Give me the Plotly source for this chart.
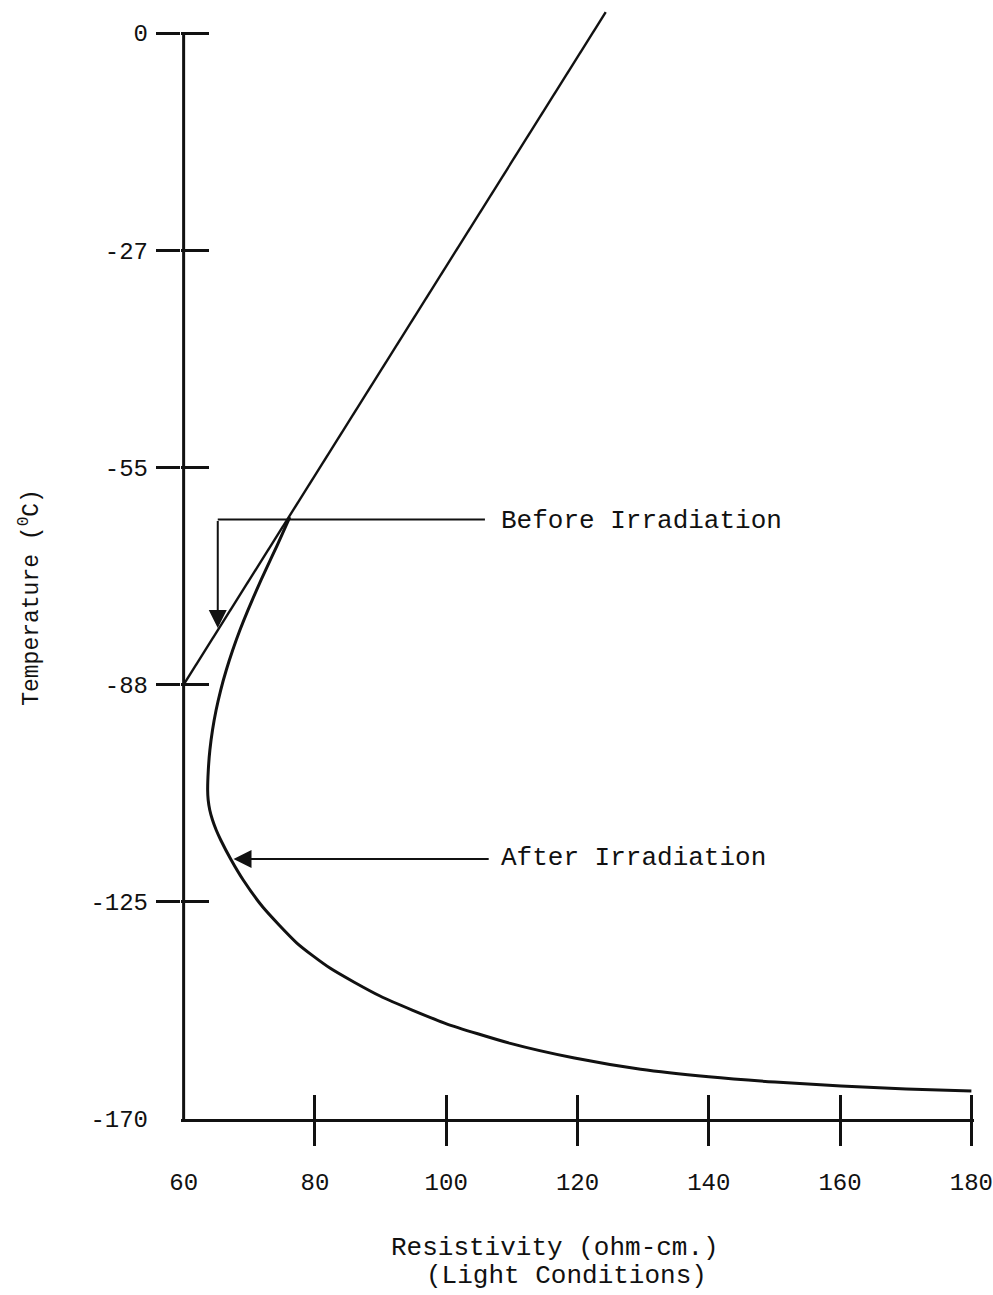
import numpy as np
import plotly.graph_objects as go

# Temperature axis: ticks are evenly spaced on the page although their values are not
TEMP_TICKS = [0, -27, -55, -88, -125, -170]
TEMP_LABELS = ["0", "-27", "-55", "-88", "-125", "-170"]
RES_TICKS = [60, 80, 100, 120, 140, 160, 180]
RES_LABELS = ["60", "80", "100", "120", "140", "160", "180"]

# Before irradiation (straight line)
before_res = [60.0, 124.3]
before_temp = [-88.0, 2.6]

# After irradiation
after_res = [76.18, 74.27, 72.49, 71.11, 69.80, 68.58, 67.48, 66.50, 65.65,
             64.95, 64.40, 64.00, 63.76, 63.66, 63.74, 63.98, 64.40, 64.96,
             65.65, 67.25, 69.08, 72.06, 77.25, 82.29, 89.92, 99.85, 109.77,
             119.54, 129.62, 140.0, 150.08, 160.15, 170.08, 180.0]
after_temp = [-62.54, -66.79, -70.59, -73.63, -76.67, -79.70, -82.74, -85.78,
              -88.92, -92.33, -95.73, -99.14, -102.55, -105.96, -107.66,
              -109.36, -111.07, -112.77, -114.47, -117.88, -121.29, -126.08,
              -133.54, -138.72, -144.52, -150.17, -154.34, -157.38, -159.70,
              -161.26, -162.35, -163.16, -163.78, -164.20]

# Label leaders (resistivity, temperature)
before_leader = dict(x_from=105.9, x_corner=65.2, temp=-62.9, tip_temp=-79.4)
before_text = dict(x=108.0, temp=-63.1, text="Before Irradiation")
after_leader = dict(x_from=106.7, x_tip=67.6, temp=-117.7)
after_text = dict(x=108.0, temp=-117.5, text="After Irradiation")

FONT = "Liberation Mono, Courier New, monospace"
INK = "#111111"
FS = 26
TICK_FS = 24

_asc_t = TEMP_TICKS[::-1]
_asc_p = list(range(len(TEMP_TICKS)))


def temp_pos(t):
    """Map a temperature onto the evenly spaced tick scale."""
    t = np.asarray(t, dtype=float)
    p = np.interp(t, _asc_t, _asc_p)
    top_step = TEMP_TICKS[0] - TEMP_TICKS[1]
    return np.where(t > TEMP_TICKS[0], _asc_p[-1] + (t - TEMP_TICKS[0]) / top_step, p)


X_RANGE = [59.6, 180.4]
Y_RANGE = [0, 5.12]

fig = go.Figure()

fig.add_trace(go.Scatter(
    x=before_res, y=temp_pos(before_temp), mode="lines",
    line=dict(color=INK, width=2.4), showlegend=False, hoverinfo="skip"))

fig.add_trace(go.Scatter(
    x=after_res, y=temp_pos(after_temp), mode="lines",
    line=dict(color=INK, width=3, shape="spline", smoothing=0.6),
    showlegend=False, hoverinfo="skip"))

# carriers for the overlaid tick-mark axes
for ax in ("2", "3"):
    fig.add_trace(go.Scatter(x=[None], y=[None], xaxis="x" + ax, yaxis="y" + ax,
                             showlegend=False, hoverinfo="skip"))

tick_font = dict(family=FONT, size=TICK_FS, color=INK)
blank = dict(showgrid=False, zeroline=False, automargin=False)

fig.update_layout(
    width=993, height=1295,
    margin=dict(l=181, r=19, t=7, b=176, autoexpand=False),
    paper_bgcolor="white", plot_bgcolor="white",
    xaxis=dict(range=X_RANGE, tickvals=RES_TICKS, ticktext=RES_LABELS, ticks="",
               showline=True, linewidth=3, linecolor=INK, tickfont=tick_font,
               ticklabelstandoff=39, ticklabeloverflow="allow", anchor="y", **blank),
    xaxis2=dict(range=X_RANGE, overlaying="x", anchor="y", tickvals=RES_TICKS[1:],
                ticks="outside", ticklen=26, tickwidth=3, tickcolor=INK,
                showticklabels=False, showline=False, **blank),
    xaxis3=dict(range=X_RANGE, overlaying="x", anchor="y", tickvals=RES_TICKS[1:],
                ticks="inside", ticklen=24, tickwidth=3, tickcolor=INK,
                showticklabels=False, showline=False, **blank),
    yaxis=dict(range=Y_RANGE, tickvals=temp_pos(TEMP_TICKS), ticktext=TEMP_LABELS,
               ticks="", showline=False, tickfont=tick_font, ticklabelstandoff=32,
               ticklabeloverflow="allow", anchor="x", **blank),
    yaxis2=dict(range=Y_RANGE, overlaying="y", anchor="x",
                tickvals=temp_pos(TEMP_TICKS[:-1]), ticks="outside", ticklen=24,
                tickwidth=3, tickcolor=INK, showticklabels=False, showline=False, **blank),
    yaxis3=dict(range=Y_RANGE, overlaying="y", anchor="x",
                tickvals=temp_pos(TEMP_TICKS[:-1]), ticks="inside", ticklen=28,
                tickwidth=3, tickcolor=INK, showticklabels=False, showline=False, **blank),
)

# vertical axis line from the lowest to the highest temperature tick
fig.add_shape(type="line", xref="x", yref="y",
              x0=RES_TICKS[0], x1=RES_TICKS[0],
              y0=float(temp_pos(TEMP_TICKS[-1])), y1=float(temp_pos(TEMP_TICKS[0])),
              line=dict(color=INK, width=3))

# "Before Irradiation" elbow leader
fig.add_shape(type="line", xref="x", yref="y",
              x0=before_leader["x_from"], x1=before_leader["x_corner"],
              y0=float(temp_pos(before_leader["temp"])), y1=float(temp_pos(before_leader["temp"])),
              line=dict(color=INK, width=2))
fig.add_annotation(x=before_leader["x_corner"], y=float(temp_pos(before_leader["tip_temp"])),
                   ax=before_leader["x_corner"], ay=float(temp_pos(before_leader["temp"])),
                   axref="x", ayref="y", xref="x", yref="y", text="",
                   showarrow=True, arrowhead=2, arrowsize=1.8, arrowwidth=2, arrowcolor=INK)
fig.add_annotation(x=before_text["x"], y=float(temp_pos(before_text["temp"])),
                   xref="x", yref="y", text=before_text["text"], showarrow=False,
                   xanchor="left", yanchor="middle",
                   font=dict(family=FONT, size=FS, color=INK))

# "After Irradiation" leader
fig.add_annotation(x=after_leader["x_tip"], y=float(temp_pos(after_leader["temp"])),
                   ax=after_leader["x_from"], ay=float(temp_pos(after_leader["temp"])),
                   axref="x", ayref="y", xref="x", yref="y", text="",
                   showarrow=True, arrowhead=2, arrowsize=1.8, arrowwidth=2, arrowcolor=INK)
fig.add_annotation(x=after_text["x"], y=float(temp_pos(after_text["temp"])),
                   xref="x", yref="y", text=after_text["text"], showarrow=False,
                   xanchor="left", yanchor="middle",
                   font=dict(family=FONT, size=FS, color=INK))

# axis titles
fig.add_annotation(x=-0.19, y=0.469, xref="paper", yref="paper",
                   xanchor="center", yanchor="middle",
                   text="Temperature (<sup>0</sup>C)", textangle=-90, showarrow=False,
                   font=dict(family=FONT, size=23, color=INK))
fig.add_annotation(x=0.4716, y=-0.116, xref="paper", yref="paper",
                   xanchor="center", yanchor="middle",
                   text="Resistivity (ohm-cm.)", showarrow=False,
                   font=dict(family=FONT, size=FS, color=INK))
fig.add_annotation(x=0.4855, y=-0.141, xref="paper", yref="paper",
                   xanchor="center", yanchor="middle",
                   text="(Light Conditions)", showarrow=False,
                   font=dict(family=FONT, size=FS, color=INK))

fig.write_html("out.html")
